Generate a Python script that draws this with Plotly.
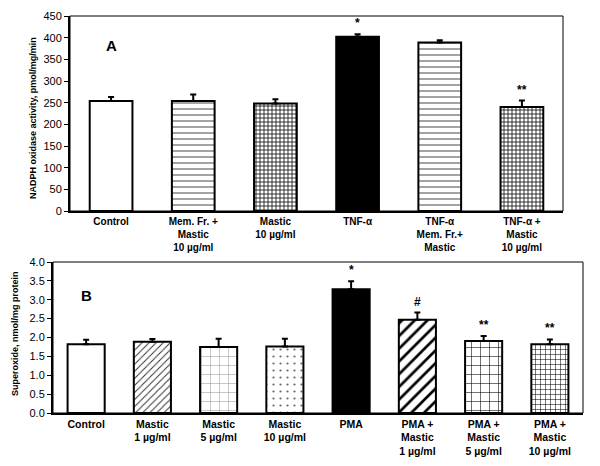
import plotly.graph_objects as go

# ---------- data ----------
cats_a = ["<b>Control</b>", "<b>Mem. Fr. +<br>Mastic<br>10 µg/ml</b>", "<b>Mastic<br>10 µg/ml</b>",
          "<b>TNF-α</b>", "<b>TNF-α<br>Mem. Fr.+<br>Mastic</b>", "<b>TNF-α +<br>Mastic<br>10 µg/ml</b>"]
vals_a = [254, 254, 248, 402, 389, 240]
errs_a = [9, 15, 10, 6, 5, 15]
sig_a = ["", "", "", "*", "", "**"]

cats_b = ["<b>Control</b>", "<b>Mastic<br>1 µg/ml</b>", "<b>Mastic<br>5 µg/ml</b>", "<b>Mastic<br>10 µg/ml</b>",
          "<b>PMA</b>", "<b>PMA +<br>Mastic<br>1 µg/ml</b>", "<b>PMA +<br>Mastic<br>5 µg/ml</b>",
          "<b>PMA +<br>Mastic<br>10 µg/ml</b>"]
vals_b = [1.82, 1.89, 1.75, 1.76, 3.28, 2.47, 1.91, 1.82]
errs_b = [0.12, 0.07, 0.22, 0.21, 0.21, 0.19, 0.13, 0.13]
sig_b = ["", "", "", "", "*", "#", "**", "**"]

# ---------- styles ----------
FONT = "Liberation Sans, Arial, sans-serif"

# (fill, pattern shape, size, solidity, pattern colour)
style_a = [("white", "", 6, 0.2, "black"),
           ("white", "-", 6, 0.15, "#333333"),
           ("white", "+", 4, 0.35, "black"),
           ("black", "", 6, 0.2, "black"),
           ("white", "-", 6, 0.15, "#333333"),
           ("white", "+", 4, 0.35, "black")]
style_b = [("white", "", 6, 0.2, "black"),
           ("white", "/", 5, 0.2, "#333333"),
           ("white", "+", 9, 0.1, "#888888"),
           ("white", ".", 7, 0.08, "#666666"),
           ("black", "", 6, 0.2, "black"),
           ("white", "/", 9, 0.3, "black"),
           ("white", "+", 9, 0.12, "black"),
           ("white", "+", 5, 0.2, "black")]

fig = go.Figure()

def add_bars(cats, vals, errs, styles, xa, ya, width):
    for c, v, e, (fill, shp, sz, sol, fg) in zip(cats, vals, errs, styles):
        marker = dict(color=fill, line=dict(color="black", width=2))
        if shp:
            marker["pattern"] = dict(shape=shp, size=sz, solidity=sol, fgcolor=fg,
                                     bgcolor=fill, fillmode="replace")
        fig.add_trace(go.Bar(
            x=[c], y=[v], xaxis=xa, yaxis=ya, width=width, marker=marker,
            error_y=dict(type="data", array=[e], arrayminus=[0], symmetric=False,
                         color="black", thickness=2, width=3),
            showlegend=False, hoverinfo="skip"))

add_bars(cats_a, vals_a, errs_a, style_a, "x", "y", 0.52)
add_bars(cats_b, vals_b, errs_b, style_b, "x2", "y2", 0.56)

W, H = 600, 466
OFF = 8  # page body margin offset
def fx(px): return (px - OFF) / W
def fy(py): return 1 - (py - OFF) / H

axis_common = dict(showgrid=False, zeroline=False, showline=True, linecolor="black", linewidth=2,
                   automargin=False)
xtick_a = dict(family=FONT, size=10, color="black")
xtick_b = dict(family=FONT, size=10.5, color="black")
ytick = dict(family=FONT, size=11, color="black")

annotations = []
for c, v, e, s in zip(cats_a, vals_a, errs_a, sig_a):
    if s:
        annotations.append(dict(x=c, y=v + e, xref="x", yref="y", text="<b>" + s + "</b>", showarrow=False,
                                xanchor="center", yanchor="bottom", yshift=2,
                                font=dict(family=FONT, size=12, color="black")))
for c, v, e, s in zip(cats_b, vals_b, errs_b, sig_b):
    if s:
        annotations.append(dict(x=c, y=v + e, xref="x2", yref="y2", text="<b>" + s + "</b>", showarrow=False,
                                xanchor="center", yanchor="bottom", yshift=2,
                                font=dict(family=FONT, size=12, color="black")))

def paper_note(px, py, text, size, angle=0):
    return dict(x=fx(px), y=fy(py), xref="paper", yref="paper", text=text, showarrow=False,
                xanchor="center", yanchor="middle", textangle=angle,
                font=dict(family=FONT, size=size, color="black"))

annotations += [
    paper_note(111, 46, "<b>A</b>", 15),
    paper_note(87, 295, "<b>B</b>", 15),
    paper_note(33, 118, "<b>NADPH oxidase activity, pmol/mg/min</b>", 9, -90),
    paper_note(15, 334, "<b>Superoxide, nmol/mg protein</b>", 9, -90),
]

fig.update_layout(
    width=W, height=H, margin=dict(l=0, r=0, t=0, b=0),
    paper_bgcolor="white", plot_bgcolor="white",
    xaxis=dict(domain=[fx(70), fx(563)], anchor="y", ticks="", tickfont=xtick_a, **axis_common),
    yaxis=dict(domain=[fy(211), fy(16)], anchor="x", range=[0, 450], dtick=50,
               ticks="outside", ticklen=4, tickcolor="black", tickfont=ytick, **axis_common),
    xaxis2=dict(domain=[fx(53), fx(583)], anchor="y2", ticks="", tickfont=xtick_b, **axis_common),
    yaxis2=dict(domain=[fy(413), fy(262)], anchor="x2", range=[0, 4], dtick=0.5, tickformat=".1f",
                ticks="outside", ticklen=4, tickcolor="black", tickfont=ytick, **axis_common),
    annotations=annotations,
    shapes=[
        dict(type="rect", xref="x domain", yref="y domain", x0=0, x1=1, y0=0, y1=1,
             line=dict(color="black", width=1)),
        dict(type="rect", xref="x2 domain", yref="y2 domain", x0=0, x1=1, y0=0, y1=1,
             line=dict(color="black", width=1)),
    ],
)

fig.write_html("out.html")
